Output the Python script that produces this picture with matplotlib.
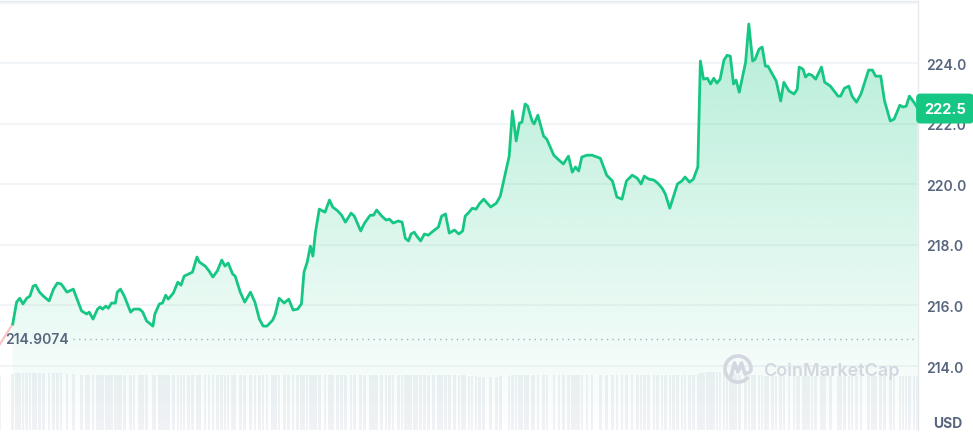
import numpy as np
import matplotlib
matplotlib.use("Agg")
import matplotlib.pyplot as plt
from matplotlib.patches import Arc
from matplotlib.lines import Line2D
from matplotlib.transforms import blended_transform_factory

plt.rcParams['font.family'] = ['Inter', 'DejaVu Sans']

# minutes since the start of the 24h window
minutes = [
    0,
    20, 26, 31, 36, 42, 47, 52, 56, 62, 68,
    77, 84, 90, 96, 105, 115, 128, 136, 140, 146,
    153, 157, 161, 166, 170, 175, 181, 184, 189, 195,
    205, 210, 219, 224, 230, 240, 243, 250, 255, 260,
    264, 272, 279, 284, 289, 296, 302, 309, 313, 322,
    328, 334, 341, 348, 353, 358, 365, 369, 377, 384,
    393, 400, 407, 413, 419, 428, 432, 438, 446, 453,
    460, 467, 473, 477, 482, 487, 491, 495, 501, 510,
    517, 522, 530, 536, 542, 551, 556, 566, 572, 581,
    586, 591, 599, 606, 611, 617, 625, 631, 636, 641,
    645, 650, 654, 660, 666, 672, 680, 688, 693, 699,
    705, 713, 720, 726, 730, 736, 741, 747, 752, 759,
    770, 779, 785, 799, 804, 810, 815, 819, 824, 828,
    835, 838, 844, 853, 858, 869, 877, 884, 892, 898,
    903, 908, 913, 921, 929, 942, 952, 961, 968, 976,
    983, 992, 1000, 1006, 1011, 1018, 1026, 1032, 1039, 1044,
    1051, 1057, 1063, 1070, 1075, 1082, 1088, 1095, 1099, 1104,
    1110, 1115, 1120, 1125, 1130, 1136, 1141, 1146, 1151, 1155,
    1160, 1170, 1175, 1181, 1185, 1191, 1196, 1201, 1205, 1212,
    1218, 1225, 1230, 1238, 1246, 1251, 1254, 1260, 1264, 1269,
    1274, 1280, 1289, 1294, 1303, 1315, 1319, 1325, 1332, 1337,
    1344, 1351, 1363, 1369, 1374, 1382, 1388, 1397, 1403, 1412,
    1417, 1422, 1427, 1434, 1440,
]

prices = [
    214.73,
    215.39, 216.11, 216.24, 216.05, 216.24, 216.31, 216.64, 216.67, 216.44, 216.31,
    216.15, 216.54, 216.74, 216.71, 216.44, 216.54, 215.82, 215.72, 215.78, 215.55,
    215.88, 215.95, 215.88, 215.98, 215.91, 216.08, 216.08, 216.44, 216.54, 216.31,
    215.78, 215.88, 215.88, 215.78, 215.49, 215.32, 215.72, 216.05, 216.08, 216.34,
    216.21, 216.41, 216.77, 216.67, 216.97, 217.04, 217.10, 217.60, 217.43, 217.30,
    217.14, 216.94, 217.14, 217.50, 217.30, 217.40, 217.04, 216.97, 216.44, 216.11,
    216.44, 216.11, 215.55, 215.32, 215.32, 215.52, 215.72, 216.24, 216.08, 216.21,
    215.85, 215.88, 216.05, 217.10, 217.43, 217.96, 217.63, 218.42, 219.18, 219.08,
    219.48, 219.25, 219.12, 218.98, 218.75, 219.05, 218.95, 218.46, 218.72, 218.98,
    218.98, 219.15, 218.95, 218.82, 218.85, 218.72, 218.79, 218.75, 218.22, 218.13,
    218.36, 218.42, 218.29, 218.13, 218.36, 218.32, 218.46, 218.59, 218.95, 219.02,
    218.39, 218.49, 218.36, 218.46, 218.95, 219.08, 219.21, 219.18, 219.35, 219.51,
    219.25, 219.38, 219.61, 220.93, 222.42, 221.43, 222.02, 222.05, 222.65, 222.58,
    222.09, 221.99, 222.28, 221.59, 221.49, 220.96, 220.80, 220.67, 220.93, 220.40,
    220.57, 220.44, 220.90, 220.96, 220.96, 220.86, 220.30, 220.11, 219.58, 219.51,
    220.11, 220.30, 220.20, 220.01, 220.27, 220.17, 220.14, 220.04, 219.87, 219.68,
    219.21, 219.61, 220.01, 220.11, 220.24, 220.07, 220.17, 220.57, 224.07, 223.47,
    223.50, 223.31, 223.50, 223.34, 223.47, 224.10, 224.26, 224.23, 223.31, 223.44,
    223.04, 224.03, 225.29, 224.07, 224.13, 224.46, 224.53, 223.90, 223.90, 223.64,
    223.41, 222.75, 223.37, 223.08, 222.98, 223.14, 223.87, 223.80, 223.54, 223.64,
    223.60, 223.47, 223.87, 223.37, 223.24, 222.91, 222.91, 223.17, 223.24, 222.91,
    222.71, 222.98, 223.77, 223.77, 223.57, 223.57, 222.75, 222.09, 222.15, 222.61,
    222.55, 222.58, 222.91, 222.71, 222.52,
]

# relative volume, same timestamps
volume = [
    5.5,
    5.6, 5.7, 5.7, 5.7, 5.7, 5.7, 5.7, 5.7, 5.7, 5.7,
    5.7, 5.7, 5.7, 5.7, 5.6, 5.6, 5.5, 5.5, 5.5, 5.5,
    5.5, 5.5, 5.5, 5.5, 5.5, 5.5, 5.5, 5.5, 5.5, 5.5,
    5.5, 5.5, 5.5, 5.5, 5.5, 5.5, 5.5, 5.5, 5.5, 5.5,
    5.5, 5.5, 5.5, 5.5, 5.5, 5.5, 5.5, 5.5, 5.5, 5.5,
    5.5, 5.5, 5.5, 5.5, 5.5, 5.5, 5.5, 5.5, 5.5, 5.5,
    5.5, 5.5, 5.5, 5.5, 5.5, 5.5, 5.5, 5.5, 5.5, 5.5,
    5.5, 5.5, 5.5, 5.5, 5.5, 5.5, 5.5, 5.5, 5.5, 5.5,
    5.5, 5.5, 5.5, 5.5, 5.5, 5.5, 5.5, 5.5, 5.5, 5.5,
    5.5, 5.5, 5.5, 5.5, 5.5, 5.5, 5.5, 5.5, 5.5, 5.5,
    5.5, 5.5, 5.5, 5.5, 5.5, 5.5, 5.5, 5.5, 5.5, 5.5,
    5.5, 5.5, 5.5, 5.5, 5.5, 5.4, 5.4, 5.4, 5.3, 5.3,
    5.3, 5.3, 5.4, 5.4, 5.5, 5.5, 5.5, 5.5, 5.5, 5.5,
    5.5, 5.5, 5.5, 5.5, 5.5, 5.5, 5.5, 5.5, 5.5, 5.5,
    5.5, 5.5, 5.5, 5.5, 5.5, 5.5, 5.5, 5.5, 5.5, 5.5,
    5.5, 5.5, 5.5, 5.5, 5.5, 5.5, 5.5, 5.5, 5.5, 5.5,
    5.5, 5.5, 5.5, 5.5, 5.5, 5.5, 5.5, 5.6, 5.7, 5.7,
    5.8, 5.8, 5.8, 5.8, 5.8, 5.8, 5.8, 5.7, 5.7, 5.6,
    5.5, 5.5, 5.5, 5.5, 5.5, 5.5, 5.5, 5.4, 5.4, 5.4,
    5.4, 5.4, 5.4, 5.4, 5.4, 5.4, 5.4, 5.4, 5.4, 5.4,
    5.4, 5.4, 5.4, 5.4, 5.4, 5.4, 5.4, 5.4, 5.4, 5.4,
    5.4, 5.4, 5.4, 5.4, 5.4, 5.4, 5.4, 5.4, 5.4, 5.4,
    5.4, 5.4, 5.4, 5.4, 5.4,
]

open_price = 214.9074
last_price = 222.5
tick_values = [214.0, 216.0, 218.0, 220.0, 222.0, 224.0]
grid_values = [214.0, 216.0, 218.0, 220.0, 222.0, 224.0, 226.0]

GREEN = "#16c784"
RED = "#ea3943"
GREY = "#58667e"
GRID = "#eff2f5"

W, H = 973, 439
fig = plt.figure(figsize=(W / 100, H / 100), dpi=100)
fig.patch.set_facecolor("white")

ax_w = 918 / W
ymin, ymax = 211.89, 226.05
xmax = 1440.5

# volume strip at the bottom
axv = fig.add_axes([0, 8 / H, ax_w, 60 / H])
axv.bar(minutes, volume, width=4.0, color="#f0f2f5", align="center", linewidth=0)
axv.set_xlim(0, xmax)
axv.set_ylim(0, 6.0)
axv.axis("off")
axv.patch.set_alpha(0)

# price chart
ax = fig.add_axes([0, 8 / H, ax_w, 429 / H])
ax.patch.set_alpha(0)
ax.set_xlim(0, xmax)
ax.set_ylim(ymin, ymax)

for g in grid_values:
    ax.axhline(g, color=GRID, lw=1.1, zorder=0)

t = np.array(minutes, dtype=float)
p = np.array(prices)

# gradient fill under the line
grad = np.zeros((256, 2, 4))
grad[..., 0], grad[..., 1], grad[..., 2] = 0x16 / 255, 0xc7 / 255, 0x84 / 255
grad[..., 3] = np.linspace(0.0, 0.32, 256)[:, None]
img = ax.imshow(grad, extent=[0, xmax, ymin, 225.4], origin="lower",
                aspect="auto", zorder=1, interpolation="bilinear")
poly = ax.fill_between(t[1:], p[1:], ymin, color="none", lw=0)
clip = poly.get_paths()[0]
img.set_clip_path(clip, transform=ax.transData)

# first (faded, below open) segment in red, the rest in green
ax.plot(t[:2], p[:2], color=RED, lw=1.6, alpha=0.3, zorder=3)
ax.plot(t[1:], p[1:], color=GREEN, lw=2.0, zorder=3, solid_joinstyle="round")

# opening price reference
ax.hlines(open_price, 73 / 918 * xmax, xmax, colors="#a6b0c3",
          linestyles=(0, (1, 3)), lw=1.0, zorder=2)
ax.text(5 / 918 * xmax, open_price, f"{open_price:.4f}", color=GREY,
        fontsize=10, va="center", ha="left", fontweight="semibold", zorder=4)

# axes styling
for side in ["left", "bottom"]:
    ax.spines[side].set_visible(False)
for side in ["top", "right"]:
    ax.spines[side].set_color("#e6e9ee")
    ax.spines[side].set_linewidth(1.0)
ax.set_xticks([])
ax.yaxis.tick_right()
ax.set_yticks(tick_values)
ax.set_yticklabels([f"{v:.1f}" for v in tick_values])
ax.tick_params(axis="y", length=0, pad=6, labelsize=10, labelcolor=GREY)
for lbl in ax.get_yticklabels():
    lbl.set_fontweight("semibold")

# last price tag
tr = blended_transform_factory(ax.transAxes, ax.transData)
ax.text(945 / 918, last_price, f"{last_price:.1f}", transform=tr,
        ha="center", va="center", color="white", fontsize=10.5,
        fontweight="bold", clip_on=False, zorder=10,
        bbox=dict(boxstyle="round,pad=0.5,rounding_size=0.25",
                  fc=GREEN, ec=GREEN))

fig.text(933 / W, 1 - 424 / H, "USD", color=GREY, fontsize=10,
         fontweight="bold", ha="left", va="center")

# watermark
WM = "#d3d8e0"
fig.text(763 / W, 1 - 371 / H, "CoinMarketCap", color=WM, fontsize=13,
         fontweight="semibold", ha="left", va="center")
cx, cy, r = 738, 370, 13
fig.add_artist(Arc((cx / W, 1 - cy / H), 2 * r / W, 2 * r / H, theta1=-20,
                   theta2=300, color=WM, lw=2.6, transform=fig.transFigure))
mx = [731, 734.5, 738, 741.5, 745, 750]
my = [377, 364, 373, 364, 375, 373]
fig.add_artist(Line2D([v / W for v in mx], [1 - v / H for v in my], color=WM,
                      lw=2.6, transform=fig.transFigure,
                      solid_joinstyle="round", solid_capstyle="round"))

fig.savefig("out.png", dpi=100, facecolor="white")
